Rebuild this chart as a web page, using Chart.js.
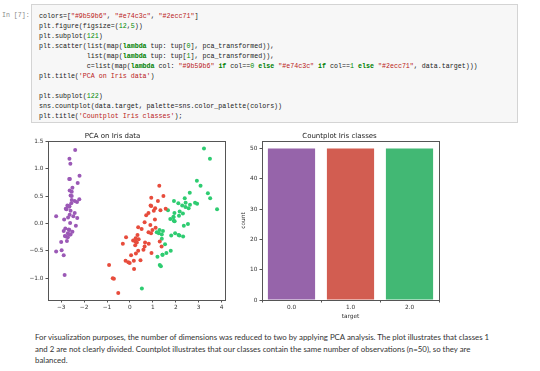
<!DOCTYPE html>
<html>
<head>
<meta charset="utf-8">
<script src="https://cdn.jsdelivr.net/npm/chart.js@4.4.1/dist/chart.umd.min.js"></script>
<style>
  html, body { margin: 0; padding: 0; background: #fff; }
  body { width: 540px; height: 371px; position: relative; overflow: hidden; }
  .prompt { position: absolute; left: 2px; top: 11px; font: 6.6px/10px "Liberation Mono", monospace; color: #8a8a8a; }
  .code { position: absolute; left: 31px; top: 4px; width: 487px; height: 119px; box-sizing: border-box;
          background: #f7f7f7; border: 1px solid #d4d4d4; margin: 0; padding: 6px 0 0 7px;
          font: 6.65px/10px "Liberation Mono", monospace; color: #222; white-space: pre; }
  .kw { color: #008000; font-weight: bold; }
  .st { color: #ba2121; }
  .nu { color: #080; }
  #pcaChart { position: absolute; left: 0; top: 125px; }
  #countChart { position: absolute; left: 240px; top: 125px; }
  .note { position: absolute; left: 35px; top: 332px; width: 500px; font: 7.85px/11.7px Lato, sans-serif; color: #333; white-space: nowrap; }
</style>
</head>
<body>
<div class="prompt">In [7]:</div>
<pre class="code">colors=[<span class="st">"#9b59b6"</span>, <span class="st">"#e74c3c"</span>, <span class="st">"#2ecc71"</span>]
plt.figure(figsize=(<span class="nu">12</span>,<span class="nu">5</span>))
plt.subplot(<span class="nu">121</span>)
plt.scatter(list(map(<span class="kw">lambda</span> tup: tup[<span class="nu">0</span>], pca_transformed)),
            list(map(<span class="kw">lambda</span> tup: tup[<span class="nu">1</span>], pca_transformed)),
            c=list(map(<span class="kw">lambda</span> col: <span class="st">"#9b59b6"</span> <span class="kw">if</span> col==<span class="nu">0</span> <span class="kw">else</span> <span class="st">"#e74c3c"</span> <span class="kw">if</span> col==<span class="nu">1</span> <span class="kw">else</span> <span class="st">"#2ecc71"</span>, data.target)))
plt.title(<span class="st">'PCA on Iris data'</span>)

plt.subplot(<span class="nu">122</span>)
sns.countplot(data.target, palette=sns.color_palette(colors))
plt.title(<span class="st">'Countplot Iris classes'</span>);</pre>

<canvas id="pcaChart" width="240" height="195"></canvas>
<canvas id="countChart" width="220" height="195"></canvas>

<div class="note">For visualization purposes, the number of dimensions was reduced to two by applying PCA analysis. The plot illustrates that classes 1<br>and 2 are not clearly divided. Countplot illustrates that our classes contain the same number of observations (n=50), so they are<br>balanced.</div>

<script>
// iris classes
var classNames = ['0.0', '1.0', '2.0'];
var classCounts = [50, 50, 50];

// first two principal components per class
var setosaPc1 = [-2.68, -2.71, -2.89, -2.75, -2.73, -2.28, -2.82, -2.63, -2.89, -2.67, -2.51, -2.61, -2.79, -3.22, -2.64, -2.39, -2.62, -2.65, -2.20, -2.59, -2.31, -2.54, -3.22, -2.30, -2.36, -2.51, -2.47, -2.56, -2.64, -2.63, -2.59, -2.41, -2.65, -2.60, -2.64, -2.87, -2.63, -2.80, -2.98, -2.59, -2.77, -2.85, -3.00, -2.41, -2.21, -2.71, -2.54, -2.84, -2.54, -2.70];
var setosaPc2 = [0.32, -0.18, -0.14, -0.32, 0.33, 0.74, -0.09, 0.16, -0.58, -0.11, 0.65, 0.01, -0.24, -0.51, 1.18, 1.34, 0.81, 0.31, 0.87, 0.51, 0.39, 0.43, 0.13, 0.10, -0.04, -0.15, 0.13, 0.37, 0.31, -0.20, -0.20, 0.41, 0.81, 1.09, -0.12, 0.07, 0.60, 0.27, -0.49, 0.23, 0.26, -0.94, -0.34, 0.19, 0.44, -0.25, 0.50, -0.23, 0.58, 0.11];
var versicolorPc1 = [1.28, 0.93, 1.46, 0.18, 1.09, 0.64, 1.10, -0.75, 1.04, -0.01, -0.51, 0.51, 0.26, 0.98, -0.17, 0.93, 0.66, 0.24, 0.94, 0.05, 1.12, 0.36, 1.30, 0.92, 0.71, 0.90, 1.33, 1.56, 0.81, -0.31, -0.07, -0.19, 0.14, 1.38, 0.59, 0.81, 1.22, 0.82, 0.25, 0.17, 0.46, 0.89, 0.23, -0.70, 0.36, 0.33, 0.38, 0.64, -0.91, 0.30];
var versicolorPc2 = [0.69, 0.32, 0.50, -0.83, 0.07, -0.42, 0.28, -1.00, 0.23, -0.72, -1.27, -0.10, -0.55, -0.12, -0.25, 0.47, -0.35, -0.33, -0.54, -0.58, -0.08, -0.07, -0.33, -0.18, 0.15, 0.33, 0.24, 0.27, -0.16, -0.37, -0.71, -0.68, -0.31, -0.42, -0.48, 0.19, 0.41, -0.37, -0.27, -0.68, -0.67, -0.03, -0.40, -1.01, -0.50, -0.21, -0.29, 0.02, -0.76, -0.35];
var virginicaPc1 = [2.53, 1.42, 2.62, 1.97, 2.35, 3.40, 0.52, 2.93, 2.32, 2.92, 1.66, 1.80, 2.17, 1.35, 1.59, 1.90, 1.95, 3.49, 3.80, 1.30, 2.43, 1.20, 3.50, 1.39, 2.28, 2.61, 1.26, 1.29, 2.12, 2.39, 2.84, 3.23, 2.16, 1.44, 1.78, 3.08, 2.14, 1.91, 1.17, 2.11, 2.31, 1.92, 1.42, 2.56, 2.42, 1.94, 1.53, 1.76, 1.90, 1.39];
var virginicaPc2 = [-0.01, -0.57, 0.34, -0.18, -0.04, 0.55, -1.19, 0.36, -0.24, 0.78, 0.24, -0.22, 0.22, -0.78, -0.54, 0.12, 0.04, 1.18, 0.26, -0.76, 0.38, -0.61, 0.46, -0.20, 0.33, 0.56, -0.18, -0.12, -0.21, 0.46, 0.38, 1.37, -0.22, -0.14, -0.50, 0.69, 0.14, 0.05, -0.16, 0.37, 0.18, 0.41, -0.57, 0.28, 0.30, 0.19, -0.38, 0.08, 0.12, -0.28];

// tick values
var pcaXTicks = [-3, -2, -1, 0, 1, 2, 3, 4];
var pcaYTicks = [-1.0, -0.5, 0.0, 0.5, 1.0, 1.5];
var countTicks = [0, 10, 20, 30, 40, 50];

var pointColors = ['#9b59b6', '#e74c3c', '#2ecc71'];
var barColors = ['#9664aa', '#d25d51', '#42b874'];   // seaborn desaturated palette
var axisColor = '#555';
var tickFont = { family: 'DejaVu Sans', size: 5.8 };
var titleFont = { family: 'DejaVu Sans', size: 7, weight: 'normal' };

function toPoints(xs, ys) {
    return xs.map(function (x, i) { return { x: x, y: ys[i] }; });
}

function minusSign(v, digits) {
    var s = digits ? Math.abs(v).toFixed(digits) : String(Math.abs(v));
    return (v < 0 ? '\u2212' : '') + s;
}

// draws the matplotlib style box round the axes
var frameBox = {
    id: 'frameBox',
    afterDraw: function (chart) {
        var a = chart.chartArea, ctx = chart.ctx;
        ctx.save();
        ctx.strokeStyle = axisColor;
        ctx.lineWidth = 1;
        ctx.strokeRect(Math.round(a.left) + 0.5, Math.round(a.top) + 0.5, Math.round(a.right - a.left), Math.round(a.bottom - a.top));
        ctx.restore();
    }
};

function axisGrid() {
    return { display: true, drawOnChartArea: false, drawTicks: true, tickLength: 2.5, color: axisColor, lineWidth: 1 };
}

new Chart(document.getElementById('pcaChart'), {
    type: 'scatter',
    data: {
        datasets: [
            { data: toPoints(setosaPc1, setosaPc2), backgroundColor: pointColors[0] },
            { data: toPoints(versicolorPc1, versicolorPc2), backgroundColor: pointColors[1] },
            { data: toPoints(virginicaPc1, virginicaPc2), backgroundColor: pointColors[2] }
        ]
    },
    options: {
        responsive: false,
        animation: false,
        elements: { point: { radius: 2, borderWidth: 0, hoverRadius: 2 } },
        layout: { padding: { left: 0, right: 15, top: 0, bottom: 0 } },
        plugins: {
            legend: { display: false },
            tooltip: { enabled: false },
            title: { display: true, text: 'PCA on Iris data', color: '#222', font: titleFont, padding: { top: 6.5, bottom: 1.1 } }
        },
        scales: {
            x: {
                type: 'linear', min: -3.575, max: 4.147,
                grid: axisGrid(), border: { color: axisColor },
                ticks: { font: tickFont, color: '#333', padding: 2, maxRotation: 0, callback: function (v) { return minusSign(v); } },
                afterBuildTicks: function (s) { s.ticks = pcaXTicks.map(function (v) { return { value: v }; }); },
                afterFit: function (s) { s.height = 20; }
            },
            y: {
                type: 'linear', min: -1.398, max: 1.506,
                grid: axisGrid(), border: { color: axisColor },
                ticks: { font: tickFont, color: '#333', padding: 2, callback: function (v) { return minusSign(v, 1); } },
                afterBuildTicks: function (s) { s.ticks = pcaYTicks.map(function (v) { return { value: v }; }); },
                afterFit: function (s) { s.width = 48; }
            }
        }
    },
    plugins: [frameBox]
});

new Chart(document.getElementById('countChart'), {
    type: 'bar',
    data: {
        labels: classNames,
        datasets: [{
            data: classCounts,
            backgroundColor: barColors,
            barPercentage: 0.8,
            categoryPercentage: 1.0
        }]
    },
    options: {
        responsive: false,
        animation: false,
        layout: { padding: { left: 0, right: 21, top: 0, bottom: 0 } },
        plugins: {
            legend: { display: false },
            tooltip: { enabled: false },
            title: { display: true, text: 'Countplot Iris classes', color: '#222', font: titleFont, padding: { top: 6.5, bottom: 1.1 } }
        },
        scales: {
            x: {
                grid: axisGrid(), border: { color: axisColor },
                ticks: { font: tickFont, color: '#333', padding: 2, maxRotation: 0 },
                title: { display: true, text: 'target', font: tickFont, color: '#333', padding: 0 },
                afterFit: function (s) { s.height = 20; }
            },
            y: {
                min: 0, max: 52.5,
                grid: axisGrid(), border: { color: axisColor },
                ticks: { font: tickFont, color: '#333', padding: 2 },
                title: { display: true, text: 'count', font: tickFont, color: '#333', padding: 0 },
                afterBuildTicks: function (s) { s.ticks = countTicks.map(function (v) { return { value: v }; }); },
                afterFit: function (s) { s.width = 22; }
            }
        }
    },
    plugins: [frameBox]
});
</script>
</body>
</html>
